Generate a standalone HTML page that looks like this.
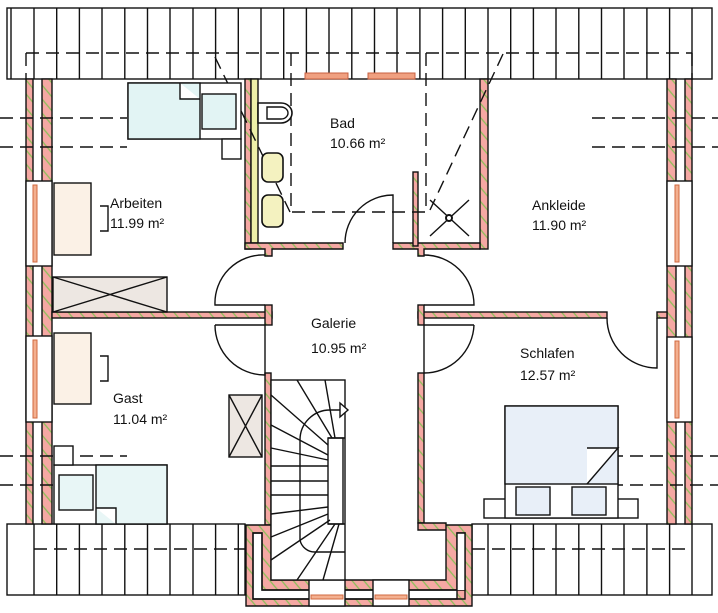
<!DOCTYPE html>
<html><head><meta charset="utf-8"><style>html,body{margin:0;padding:0;background:#fff}svg{display:block}text{font-family:"Liberation Sans",sans-serif;font-size:14px;fill:#111}</style></head>
<body>
<svg width="718" height="613" viewBox="0 0 718 613" xmlns="http://www.w3.org/2000/svg">
<defs>
<pattern id="h" width="9" height="9" patternUnits="userSpaceOnUse" patternTransform="rotate(-40)">
<rect width="9" height="9" fill="#f5a8a3"/><line x1="4.5" y1="0" x2="4.5" y2="9" stroke="#8cbf5a" stroke-width="1.3"/>
</pattern>
</defs>
<g stroke="#111" stroke-width="1.4" fill="none">
<rect x="7" y="8" width="705" height="71" fill="#fff"/>
<path d="M11 8V79M34 8V79M56.7 8V79M79.4 8V79M102 8V79M124.8 8V79M147.5 8V79M170 8V79M193 8V79M215.6 8V79M238.3 8V79M261 8V79M283.7 8V79M306.4 8V79M329 8V79M351.8 8V79M374.5 8V79M397 8V79M419.9 8V79M442.6 8V79M465.3 8V79M488 8V79M510.7 8V79M533.4 8V79M556 8V79M578.8 8V79M601.5 8V79M624 8V79M646.9 8V79M669.6 8V79M692 8V79"/>
<rect x="7" y="524" width="238" height="71" fill="#fff"/>
<rect x="472" y="524" width="240" height="71" fill="#fff"/>
<path d="M34 524V595M56.7 524V595M79.4 524V595M102 524V595M124.8 524V595M147.5 524V595M170 524V595M193 524V595M215.6 524V595M238.3 524V595M488 524V595M510.7 524V595M533.4 524V595M556 524V595M578.8 524V595M601.5 524V595M624 524V595M646.9 524V595M669.6 524V595M692 524V595"/>
<rect x="305" y="73" width="43" height="6" fill="#f0a080" stroke="#c86040" stroke-width="1"/>
<rect x="368" y="73" width="47" height="6" fill="#f0a080" stroke="#c86040" stroke-width="1"/>
<rect x="26" y="79" width="7" height="445" fill="url(#h)"/>
<rect x="42" y="79" width="10" height="445" fill="url(#h)"/>
<rect x="667" y="79" width="9" height="445" fill="url(#h)"/>
<rect x="685" y="79" width="7" height="445" fill="url(#h)"/>
<rect x="26" y="181" width="26" height="85" fill="#fff"/>
<rect x="26" y="336" width="26" height="86" fill="#fff"/>
<rect x="667" y="181" width="25" height="85" fill="#fff"/>
<rect x="667" y="337" width="25" height="85" fill="#fff"/>
</g>
<g stroke="#d06a40" stroke-width="1" fill="#f4b090">
<rect x="33" y="185" width="4" height="77"/><rect x="33" y="340" width="4" height="78"/>
<rect x="675" y="185" width="4" height="77"/><rect x="675" y="341" width="4" height="77"/>
</g>
<g stroke="#111" stroke-width="1.4">
<rect x="245" y="79" width="6" height="170" fill="url(#h)"/>
<rect x="251" y="79" width="7" height="164" fill="#eef0a8"/>
<path d="M245 243H343V249H272V256H265V249H245Z" fill="url(#h)"/>
<rect x="480" y="79" width="8" height="170" fill="url(#h)"/>
<path d="M393 243H480V249H424V256H418V249H393Z" fill="url(#h)"/>
<rect x="413" y="172" width="5" height="74" fill="url(#h)"/>
<rect x="52" y="312" width="220" height="6" fill="url(#h)"/>
<rect x="265" y="305" width="7" height="20" fill="url(#h)"/>
<rect x="418" y="312" width="189" height="6" fill="url(#h)"/>
<rect x="418" y="305" width="6" height="20" fill="url(#h)"/>
<rect x="657" y="312" width="10" height="6" fill="url(#h)"/>
<rect x="265" y="373" width="6" height="152" fill="url(#h)"/>
<rect x="418" y="373" width="6" height="150" fill="url(#h)"/>
<path d="M246 525H271V580H446V523H418V530H446V525H472V606H246Z" fill="url(#h)"/>
<path d="M253 533H262V590H465V533H457V590V599H253Z" fill="#fff"/>
<rect x="457" y="533" width="8" height="57" fill="#fff" stroke="none"/>
<path d="M253 533H262V590H457V533H465V599H253Z" fill="none"/>
<rect x="309" y="580" width="36" height="26" fill="#fff"/>
<rect x="373" y="580" width="36" height="26" fill="#fff"/>
</g>
<g stroke="#d06a40" stroke-width="1" fill="#f4b090">
<rect x="311" y="595" width="32" height="4"/><rect x="375" y="595" width="32" height="4"/>
</g>
<g stroke="#111" stroke-width="1.4" fill="none" stroke-dasharray="13,7">
<path d="M26 53H692M26 53V80M692 53V80"/>
<path d="M291 53V212H426V53"/>
<path d="M503 54L430 210M215 57L290 212"/>
<path d="M0 118H127M0 147H127M592 118H718M592 147H718"/>
<path d="M0 456H127M0 485H127M590 456H718M590 485H718"/>
<path d="M34 549H245M472 549H692"/>
</g>
<g stroke="#111" stroke-width="1.4" fill="none">
<path d="M345 243A48 48 0 0 1 393 195V243"/>
<path d="M265 255A48 48 0 0 0 215 305H265"/>
<path d="M215 325H265V375A50 50 0 0 1 215 325"/>
<path d="M424 255A50 50 0 0 1 474 305H424"/>
<path d="M474 325H424V373A50 50 0 0 0 474 325"/>
<path d="M607 318A50 50 0 0 0 657 368V318"/>
<path d="M430 200L469 236M469 200L430 236"/>
<circle cx="449" cy="218" r="3" fill="#fff" stroke-width="2"/>
<rect x="54" y="183" width="37" height="72" fill="#fbf1e6"/>
<path d="M100 206H108V231H100"/>
<rect x="54" y="333" width="37" height="71" fill="#fbf1e6"/>
<path d="M100 356H108V381H100"/>
<rect x="53" y="277" width="114" height="35" fill="#ede7e2"/>
<path d="M53 277L167 312M53 312L167 277"/>
<rect x="229" y="395" width="33" height="62" fill="#ede7e2"/>
<path d="M229 395L262 457M229 457L262 395"/>
<rect x="128" y="83" width="113" height="56" fill="#fff"/>
<rect x="128" y="83" width="72" height="56" fill="#e2f4f4"/>
<path d="M180 83V99H200" fill="#fff"/>
<rect x="202" y="94" width="34" height="35" fill="#e2f4f4"/>
<rect x="222" y="139" width="19" height="20" fill="#fff"/>
<rect x="54" y="465" width="113" height="59" fill="#fff"/>
<rect x="96" y="465" width="71" height="59" fill="#e8f6f6"/>
<path d="M96 508H116V524" fill="#fff"/>
<rect x="59" y="475" width="34" height="35" fill="#e8f6f6"/>
<rect x="54" y="446" width="19" height="19" fill="#fff"/>
<rect x="484" y="499" width="154" height="19" fill="#fff"/>
<rect x="505" y="406" width="113" height="112" fill="#fff"/>
<rect x="505" y="406" width="113" height="78" fill="#e8eff8"/>
<path d="M587 448H618L587 484" fill="#fff"/>
<rect x="516" y="487" width="34" height="28" fill="#e8eff8"/>
<rect x="572" y="487" width="34" height="28" fill="#e8eff8"/>
<path d="M258 103H281A11 10 0 0 1 281 123H258Z" fill="#fff" stroke-width="1.6"/>
<path d="M267 107H281A7 6 0 0 1 281 119H267Z" fill="#fff"/>
<rect x="262" y="153" width="21" height="29" rx="6" fill="#f4f2c0" stroke-width="1.6"/>
<rect x="262" y="195" width="21" height="32" rx="6" fill="#f4f2c0" stroke-width="1.6"/>
<rect x="271" y="380" width="74" height="200" fill="#fff"/>
<rect x="328" y="438" width="15" height="86" fill="#fff"/>
<path d="M328 438H345M328 524H345"/>
<path d="M297 380L332 438M325 380L335 438M271 395L328 445M271 425L328 455M271 448L328 460M271 466H328M271 481H328M271 495H328M271 514L328 507M271 537L328 514M271 560L330 520M297 580L335 524M323 580L339 524"/>
<path d="M345 410H330A30 30 0 0 0 300 440V540A15 15 0 0 0 315 552H345"/>
<path d="M340 403L348 410L340 417Z" fill="#fff"/>
</g>
<text x="330" y="128">Bad</text><text x="330" y="148">10.66 m²</text>
<text x="110" y="208">Arbeiten</text><text x="110" y="228">11.99 m²</text>
<text x="532" y="210">Ankleide</text><text x="532" y="230">11.90 m²</text>
<text x="311" y="328">Galerie</text><text x="311" y="353">10.95 m²</text>
<text x="113" y="403">Gast</text><text x="113" y="424">11.04 m²</text>
<text x="520" y="358">Schlafen</text><text x="520" y="380">12.57 m²</text>
</svg>
</body></html>
